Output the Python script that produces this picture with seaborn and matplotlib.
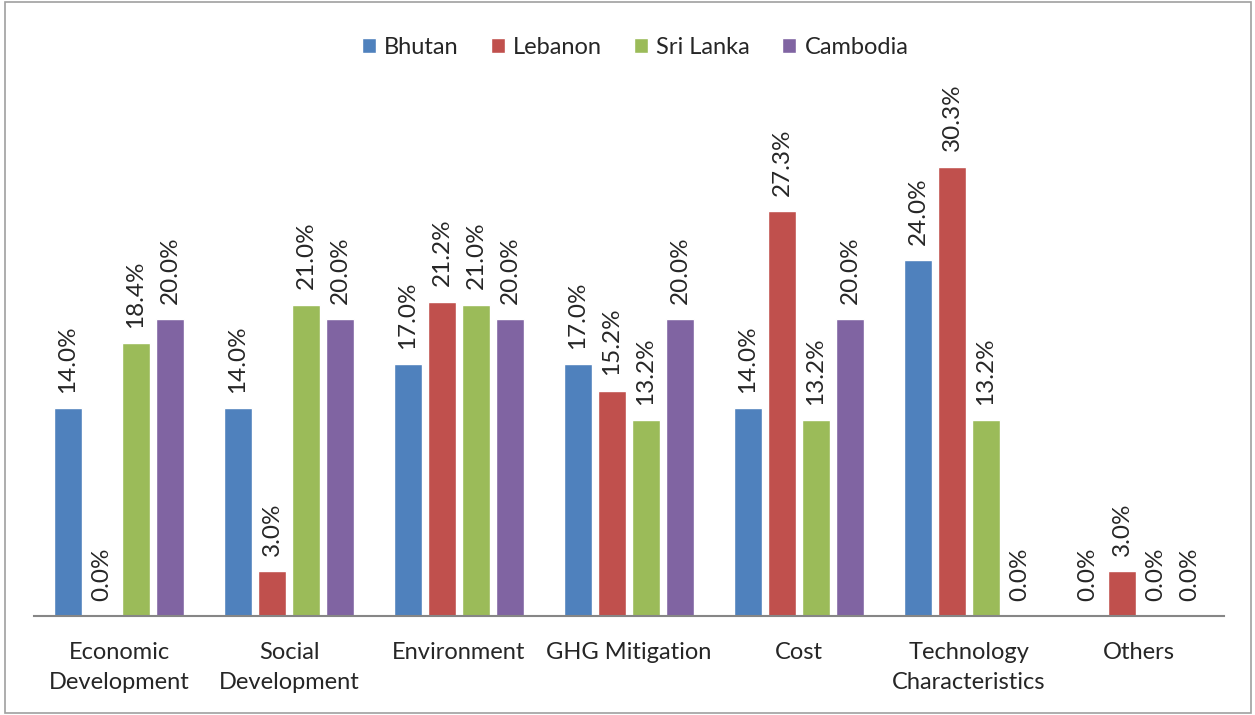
import pandas as pd
import matplotlib.pyplot as plt
import matplotlib.patches as mpatches
import seaborn as sns

categories = ['Economic\nDevelopment', 'Social\nDevelopment', 'Environment',
              'GHG Mitigation', 'Cost', 'Technology\nCharacteristics', 'Others']
countries = ['Bhutan', 'Lebanon', 'Sri Lanka', 'Cambodia']
bhutan = [14.0, 14.0, 17.0, 17.0, 14.0, 24.0, 0.0]
lebanon = [0.0, 3.0, 21.2, 15.2, 27.3, 30.3, 3.0]
sri_lanka = [18.4, 21.0, 21.0, 13.2, 13.2, 13.2, 0.0]
cambodia = [20.0, 20.0, 20.0, 20.0, 20.0, 0.0, 0.0]
colors = ['#4F81BD', '#C0504D', '#9BBB59', '#8064A2']

rows = []
for name, vals in zip(countries, [bhutan, lebanon, sri_lanka, cambodia]):
    for cat, v in zip(categories, vals):
        rows.append({'category': cat, 'country': name, 'value': v})
df = pd.DataFrame(rows)

sns.set_style('white')
plt.rcParams['font.family'] = ['Lato', 'DejaVu Sans']

fig = plt.figure(figsize=(12.55, 7.15), dpi=100)
ax = fig.add_axes([0.0271, 0.1385, 0.9482, 0.8294])

sns.barplot(data=df, x='category', y='value', hue='country', order=categories,
            hue_order=countries, palette=colors, width=0.8, gap=0.18,
            saturation=1, ax=ax, errorbar=None)

for cont in ax.containers:
    ax.bar_label(cont, fmt='%.1f%%', rotation=90, padding=11, fontsize=17.5)

ax.set_ylim(0, 40)
ax.set_xlim(-0.5, len(categories) - 0.5)
ax.set_xlabel('')
ax.set_ylabel('')
ax.set_yticks([])
ax.tick_params(axis='x', labelsize=17, length=0, pad=19)
for lbl in ax.get_xticklabels():
    lbl.set_linespacing(1.5)
for s in ['top', 'right', 'left']:
    ax.spines[s].set_visible(False)
ax.spines['bottom'].set_color('#868686')
ax.spines['bottom'].set_linewidth(1.5)

ax.legend(loc='upper center', bbox_to_anchor=(0.505, 1.012), ncol=4, frameon=False,
          fontsize=17, handlelength=0.6, handleheight=0.6, handletextpad=0.35,
          columnspacing=1.35)

fig.patches.append(mpatches.Rectangle((0.004, 0.003), 0.993, 0.994,
                                      transform=fig.transFigure, fill=False,
                                      edgecolor='#A0A0A0', linewidth=1.2))

fig.savefig('out.png', dpi=100)
